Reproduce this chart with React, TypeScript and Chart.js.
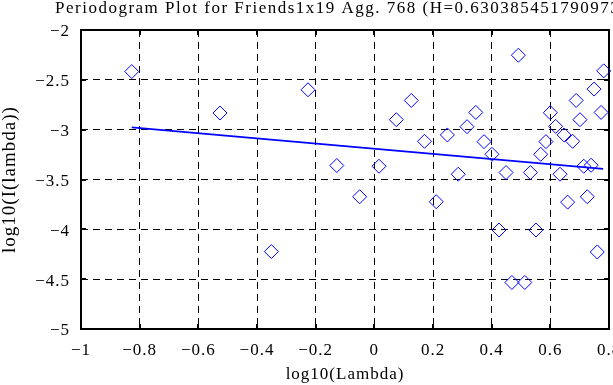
import React, { useEffect, useRef } from 'react';
import { Chart, registerables } from 'chart.js';

Chart.register(...registerables);

const TITLE = 'Periodogram Plot for Friends1x19 Agg. 768 (H=0.630385451790973)';
const X_LABEL = 'log10(Lambda)';
const Y_LABEL = 'log10(I(lambda))';

const logLambda = [
  -0.827, -0.526, -0.351, -0.226, -0.128, -0.05, 0.016, 0.075, 0.126, 0.171,
  0.211, 0.249, 0.286, 0.316, 0.346, 0.374, 0.401, 0.425, 0.449, 0.469,
  0.491, 0.513, 0.532, 0.551, 0.567, 0.585, 0.6, 0.618, 0.633, 0.647,
  0.659, 0.676, 0.688, 0.701, 0.714, 0.726, 0.739, 0.749, 0.76, 0.773, 0.782,
];
const logI = [
  -2.417, -2.833, -4.223, -2.6, -3.36, -3.673, -3.367, -2.9, -2.707, -3.117,
  -3.723, -3.053, -3.447, -2.97, -2.827, -3.12, -3.247, -4.007, -3.43, -4.533,
  -2.253, -4.533, -3.43, -4.007, -3.247, -3.12, -2.83, -2.967, -3.447, -3.053,
  -3.727, -3.117, -2.707, -2.9, -3.367, -3.673, -3.357, -2.593, -4.227, -2.827, -2.41,
];

const fitX = [-0.827, 0.78];
const fitY = [-2.977, -3.393];

const X_MIN = -1;
const X_MAX = 0.8;
const X_STEP = 0.2;
const Y_MIN = -5;
const Y_MAX = -2;
const Y_STEP = 0.5;

const FONT = 'Liberation Serif';

function fmt(v: number | string): string {
  const r = Math.round(Number(v) * 10) / 10;
  const s = r === 0 ? '0' : String(r);
  return s.replace('-', '\u2212');
}

export default function App() {
  const ref = useRef<HTMLCanvasElement>(null);

  useEffect(() => {
    if (!ref.current) return;

    const spacing = {
      id: 'spacing',
      beforeUpdate(c: any) {
        c.ctx.letterSpacing = '1px';
      },
      beforeDraw(c: any) {
        c.ctx.letterSpacing = '1px';
      },
    };

    const frame = {
      id: 'frame',
      beforeDatasetsDraw(c: any) {
        const { ctx, chartArea, scales } = c;
        const { left, right, top, bottom } = chartArea;
        const x = scales.x;
        const y = scales.y;
        ctx.save();
        ctx.strokeStyle = '#000';
        ctx.lineWidth = 2;
        ctx.setLineDash([]);
        ctx.beginPath();
        x.ticks.forEach((t: any) => {
          const px = Math.round(x.getPixelForValue(t.value));
          ctx.moveTo(px, bottom);
          ctx.lineTo(px, bottom - 5);
          ctx.moveTo(px, top);
          ctx.lineTo(px, top + 5);
        });
        y.ticks.forEach((t: any) => {
          const py = Math.round(y.getPixelForValue(t.value));
          ctx.moveTo(left, py);
          ctx.lineTo(left + 5, py);
          ctx.moveTo(right, py);
          ctx.lineTo(right - 5, py);
        });
        ctx.stroke();
        ctx.strokeRect(left, top, right - left, bottom - top);
        ctx.restore();
      },
      afterDraw(c: any) {
        const { ctx } = c;
        ctx.save();
        ctx.letterSpacing = '1.5px';
        ctx.font = `17px "${FONT}"`;
        ctx.fillStyle = '#000';
        ctx.textAlign = 'left';
        ctx.textBaseline = 'alphabetic';
        ctx.fillText(TITLE, 55, 13);
        ctx.restore();
      },
    };

    const chart = new Chart(ref.current, {
      type: 'scatter',
      data: {
        datasets: [
          {
            type: 'scatter',
            data: logLambda.map((x, i) => ({ x, y: logI[i] })),
            pointStyle: 'rectRot',
            pointRadius: 7,
            pointHoverRadius: 7,
            borderColor: '#0000ff',
            backgroundColor: 'rgba(0,0,0,0)',
            borderWidth: 1,
            clip: false,
          } as any,
          {
            type: 'line',
            data: fitX.map((x, i) => ({ x, y: fitY[i] })),
            borderColor: '#0000ff',
            borderWidth: 1.6,
            pointRadius: 0,
            fill: false,
            clip: false,
          } as any,
        ],
      },
      options: {
        responsive: false,
        animation: false,
        devicePixelRatio: 1,
        events: [],
        layout: { padding: { left: 0, right: 51, top: 30, bottom: 0 } },
        plugins: {
          legend: { display: false },
          tooltip: { enabled: false },
          title: { display: false },
        },
        scales: {
          x: {
            type: 'linear',
            position: 'bottom',
            min: X_MIN,
            max: X_MAX,
            afterFit: (s: any) => {
              s.height = 56;
            },
            ticks: {
              stepSize: X_STEP,
              autoSkip: false,
              maxRotation: 0,
              padding: 11,
              color: '#000',
              font: { family: FONT, size: 17 },
              callback: (v: any) => fmt(v),
            },
            grid: { color: '#000', lineWidth: 1, drawTicks: false },
            border: { display: false, dash: [7, 5] },
            title: {
              display: true,
              text: X_LABEL,
              color: '#000',
              font: { family: FONT, size: 17 },
              padding: { top: 0, bottom: 0 },
            },
          },
          y: {
            type: 'linear',
            position: 'left',
            min: Y_MIN,
            max: Y_MAX,
            afterFit: (s: any) => {
              s.width = 81;
            },
            ticks: {
              stepSize: Y_STEP,
              autoSkip: false,
              padding: 11,
              labelOffset: 2,
              color: '#000',
              font: { family: FONT, size: 17 },
              callback: (v: any) => fmt(v),
            },
            grid: { color: '#000', lineWidth: 1, drawTicks: false },
            border: { display: false, dash: [7, 5] },
            title: {
              display: true,
              text: Y_LABEL,
              color: '#000',
              font: { family: FONT, size: 19 },
              padding: { top: -1, bottom: 0 },
            },
          },
        },
      } as any,
      plugins: [spacing, frame],
    });

    return () => chart.destroy();
  }, []);

  return (
    <div
      style={{
        position: 'fixed',
        left: 0,
        top: 0,
        width: 613,
        height: 385,
        overflow: 'hidden',
        background: '#fff',
      }}
    >
      <canvas ref={ref} width={660} height={385} style={{ display: 'block', width: 660, height: 385 }} />
    </div>
  );
}
